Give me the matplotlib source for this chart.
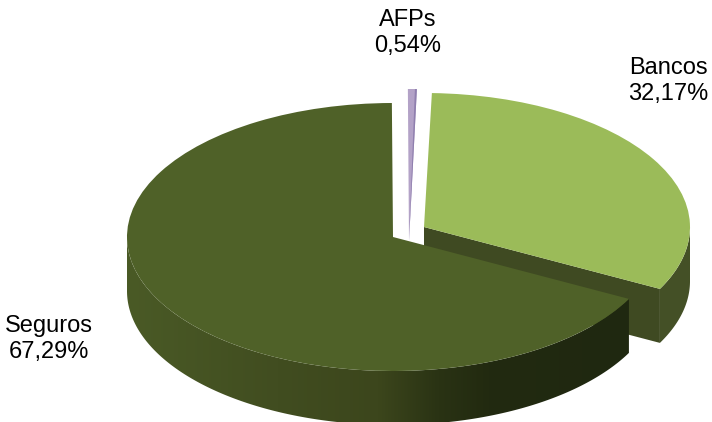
import numpy as np
import matplotlib
matplotlib.use("Agg")
import matplotlib.pyplot as plt
from matplotlib.colors import LinearSegmentedColormap
from matplotlib.patches import Polygon
from matplotlib.transforms import Affine2D

labels = ["Bancos", "Seguros", "AFPs"]
shares = [32.17, 67.29, 0.54]
share_text = ["32,17%", "67,29%", "0,54%"]

plt.rcParams["font.family"] = ["Liberation Sans", "DejaVu Sans"]

fig = plt.figure(figsize=(7.12, 4.22), dpi=100)
ax = fig.add_axes([0, 0, 1, 1])

wedges, _ = ax.pie(shares, startangle=90 - 1.7, counterclock=False,
                   colors=["#9BBB59", "#4F6128", "#B3A2C7"], radius=1, frame=False)

RX, RY, DEPTH = 266, 134, 54
centers = {"Bancos": (424, 227, RY), "Seguros": (393, 237, RY), "AFPs": (409, 241, 152)}
zorders = {"Bancos": 3, "AFPs": 4, "Seguros": 6}


def pt(c, deg, dy=0):
    a = np.radians(deg)
    return c[0] + RX * np.cos(a), c[1] - c[2] * np.sin(a) + dy


def arc_wall(c, a0, a1):
    t = np.linspace(a0, a1, 200)
    top = np.array([pt(c, d) for d in t])
    bot = np.array([pt(c, d, DEPTH) for d in t])
    return np.vstack([top, bot[::-1]])


for name, w in zip(labels, wedges):
    c = centers[name]
    w.set_transform(Affine2D().scale(RX, -c[2]).translate(c[0], c[1]) + ax.transData)
    w.set_zorder(zorders[name])
    w.set_linewidth(0)

# Bancos: cut face and outer wall
wb = wedges[0]
cb = centers["Bancos"]
tb1 = min(wb.theta1, wb.theta2)
end = pt(cb, tb1)
ax.add_patch(Polygon([cb[:2], end, (end[0], end[1] + DEPTH), (cb[0], cb[1] + DEPTH)],
                     fc="#3F4A22", lw=0, zorder=1))
ax.add_patch(Polygon(arc_wall(cb, tb1, 0), fc="#445026", lw=0, zorder=2))

# Seguros: outer wall with horizontal gradient
ws = wedges[1]
cs = centers["Seguros"]
high = max(ws.theta1, ws.theta2)
wall = Polygon(arc_wall(cs, -180, high), fc="none", lw=0, zorder=5)
ax.add_patch(wall)
grad = LinearSegmentedColormap.from_list(
    "wall", [(0, "#4A5A26"), (0.3, "#414D20"), (0.5, "#3C461C"),
             (0.62, "#2A3314"), (0.72, "#222A10"), (1, "#1F2810")])
im = ax.imshow(np.linspace(0, 1, 256)[None, :], cmap=grad, vmin=0, vmax=1,
               extent=[127, 630, 430, 230], aspect="auto", zorder=5)
im.set_clip_path(wall)

# AFPs: darker sliver of the cut face
wa = wedges[2]
ca = centers["AFPs"]
ta1, ta2 = sorted([wa.theta1, wa.theta2])
ax.add_patch(Polygon([ca[:2], pt(ca, ta1), pt(ca, ta1 + 0.22 * (ta2 - ta1))],
                     fc="#8F7FAE", lw=0, zorder=4.5))

ax.set_aspect("auto")
ax.set_xlim(0, 712)
ax.set_ylim(422, 0)
ax.axis("off")

label_pos = {"Bancos": (668, 81), "Seguros": (48.5, 339), "AFPs": (408, 33)}
for name, txt in zip(labels, share_text):
    x, y = label_pos[name]
    ax.text(x, y, f"{name}\n{txt}", ha="center", va="center", fontsize=17,
            color="black", linespacing=1.24, zorder=10)

fig.savefig("out.png", dpi=100)
